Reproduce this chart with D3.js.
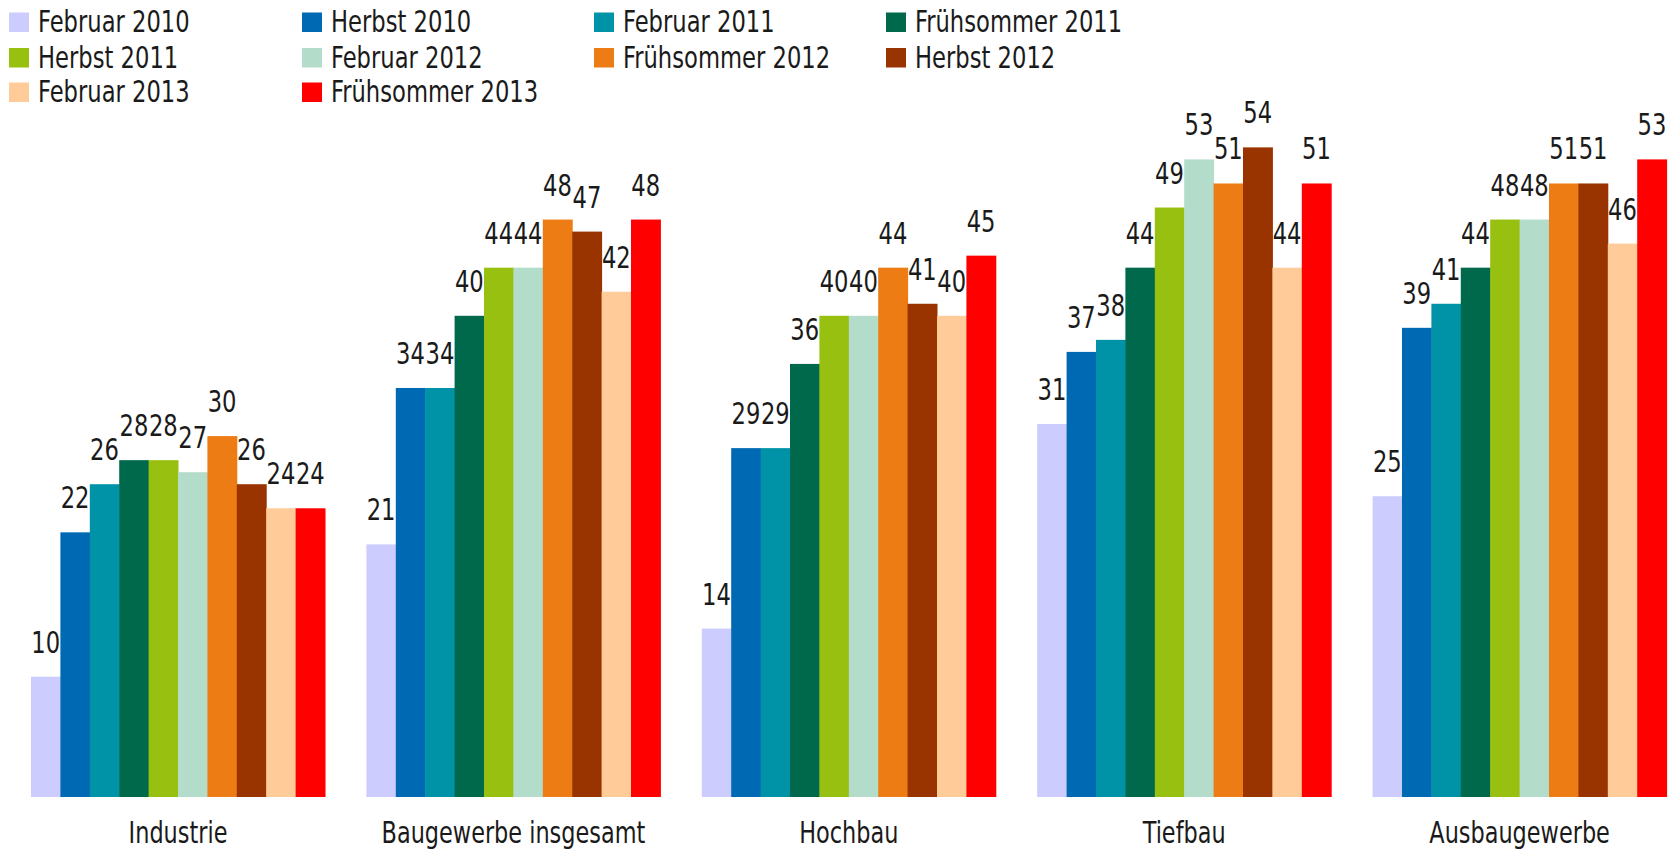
<!DOCTYPE html>
<html>
<head>
<meta charset="utf-8">
<script src="https://cdn.jsdelivr.net/npm/d3@7"></script>
<style>
  body { margin: 0; background: #fff; }
  text { font-family: "DejaVu Sans Condensed", "DejaVu Sans", sans-serif; font-stretch: condensed; fill: #1a1a1a; }
</style>
</head>
<body>
<div id="chart"></div>
<script>
// categories (x groups)
const categories = ['Industrie', 'Baugewerbe insgesamt', 'Hochbau', 'Tiefbau', 'Ausbaugewerbe'];

// survey waves (series)
const series = ['Februar 2010', 'Herbst 2010', 'Februar 2011', 'Frühsommer 2011', 'Herbst 2011',
  'Februar 2012', 'Frühsommer 2012', 'Herbst 2012', 'Februar 2013', 'Frühsommer 2013'];

const seriesColors = ['#ccccff', '#0069b4', '#0093a8', '#00684b', '#97c010',
  '#b4dccb', '#ec7c13', '#993300', '#ffcc99', '#ff0000'];

// values per category, in series order
const industrie = [10, 22, 26, 28, 28, 27, 30, 26, 24, 24];
const baugewerbe = [21, 34, 34, 40, 44, 44, 48, 47, 42, 48];
const hochbau = [14, 29, 29, 36, 40, 40, 44, 41, 40, 45];
const tiefbau = [31, 37, 38, 44, 49, 53, 51, 54, 44, 51];
const ausbau = [25, 39, 41, 44, 48, 48, 51, 51, 46, 53];

const values = [industrie, baugewerbe, hochbau, tiefbau, ausbau];

const width = 1673, height = 851;
const fontSize = 30;

const svg = d3.select('#chart').append('svg')
  .attr('width', width)
  .attr('height', height);

// scales
const x0 = d3.scaleBand()
  .domain(categories)
  .range([31, 1666.6])
  .paddingInner(0.1234)
  .paddingOuter(0);

const x1 = d3.scaleBand()
  .domain(series)
  .range([0, x0.bandwidth()])
  .padding(0);

const y = d3.scaleLinear()
  .domain([0, 54])
  .range([797, 797 - 54 * 12.03]);

const color = d3.scaleOrdinal()
  .domain(series)
  .range(seriesColors);

// reference font is narrower than what we have, so squeeze text horizontally
const squeeze = (x, yy, sx) => `translate(${x},${yy}) scale(${sx},1)`;

// bars
const groups = svg.selectAll('.group')
  .data(categories)
  .enter().append('g')
    .attr('class', 'group')
    .attr('transform', d => `translate(${x0(d)},0)`);

groups.selectAll('rect')
  .data((d, i) => values[i].map((v, j) => ({ key: series[j], value: v })))
  .enter().append('rect')
    .attr('x', d => x1(d.key))
    .attr('width', x1.bandwidth() + 0.5)
    .attr('y', d => y(d.value))
    .attr('height', d => y(0) - y(d.value))
    .attr('fill', d => color(d.key));

// value labels
groups.selectAll('.val')
  .data((d, i) => values[i].map((v, j) => ({ key: series[j], value: v })))
  .enter().append('text')
    .attr('class', 'val')
    .attr('transform', d => squeeze(x1(d.key) + x1.bandwidth() / 2, y(d.value) - 24, 0.84))
    .attr('text-anchor', 'middle')
    .attr('font-size', fontSize)
    .text(d => d.value);

// category labels
svg.selectAll('.cat')
  .data(categories)
  .enter().append('text')
    .attr('class', 'cat')
    .attr('transform', d => squeeze(x0(d) + x0.bandwidth() / 2, 843, 0.83))
    .attr('text-anchor', 'middle')
    .attr('font-size', fontSize)
    .text(d => d);

// legend, 4 columns x 3 rows
const legendCols = [9, 302, 594, 886];
const legendRows = [32, 67.5, 102];

const legend = svg.selectAll('.legend')
  .data(series)
  .enter().append('g')
    .attr('class', 'legend')
    .attr('transform', (d, i) => `translate(${legendCols[i % 4]},${legendRows[Math.floor(i / 4)]})`);

legend.append('rect')
  .attr('x', 0)
  .attr('y', -19.5)
  .attr('width', 20)
  .attr('height', 19.5)
  .attr('fill', d => color(d));

legend.append('text')
  .attr('transform', squeeze(29, 0, 0.84))
  .attr('font-size', fontSize)
  .text(d => d);
</script>
</body>
</html>
